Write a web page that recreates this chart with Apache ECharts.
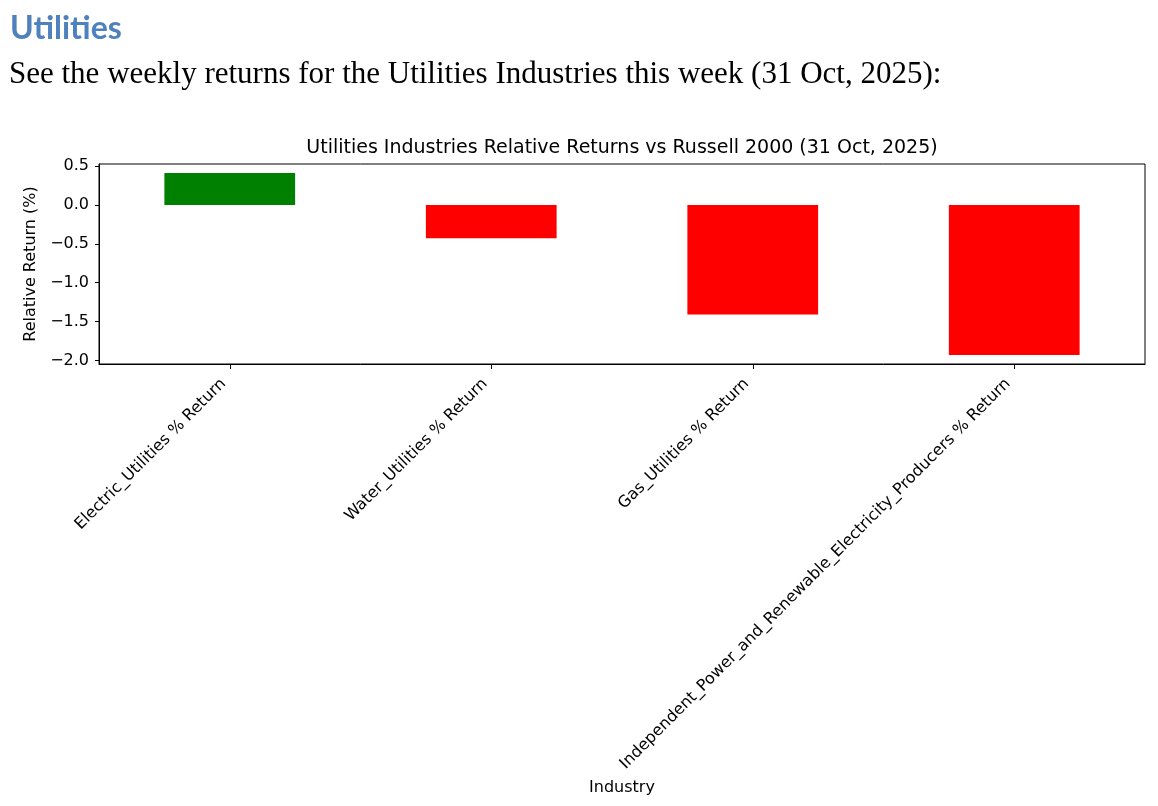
<!DOCTYPE html>
<html>
<head>
<meta charset="utf-8">
<script src="https://cdn.jsdelivr.net/npm/echarts@6/dist/echarts.min.js"></script>
<style>
html,body{margin:0;padding:0;background:#fff;}
#chart{width:1158px;height:806px;}
</style>
</head>
<body>
<div id="chart"></div>
<script>
const categories = [
  "Electric_Utilities % Return",
  "Water_Utilities % Return",
  "Gas_Utilities % Return",
  "Independent_Power_and_Renewable_Electricity_Producers % Return"
];
const values = [0.41, -0.43, -1.41, -1.93];
const yTicks = [-2.0, -1.5, -1.0, -0.5, 0.0, 0.5];
const yMin = -2.047;
const yMax = 0.527;

const pageTitle = "Utilities";
const pageSubtitle = "See the weekly returns for the Utilities Industries this week (31 Oct, 2025):";
const chartTitle = "Utilities Industries Relative Returns vs Russell 2000 (31 Oct, 2025)";

const chart = echarts.init(document.getElementById('chart'), null, {renderer: 'canvas'});
const fmt = v => {
  const s = Number(v).toFixed(1);
  return s.replace('-', '\u2212');
};
const axisFont = 'DejaVu Sans';

chart.setOption({
  animation: false,
  backgroundColor: '#ffffff',
  graphic: [
    {type: 'text', x: 10, y: 29, style: {text: pageTitle, font: 'bold 32px Lato', fill: '#4F81BD', textAlign: 'left', textVerticalAlign: 'middle'}},
    {type: 'text', x: 9, y: 75, style: {text: pageSubtitle, font: '31px "Liberation Serif"', fill: '#000000', textAlign: 'left', textVerticalAlign: 'middle'}},
    {type: 'text', x: 622, y: 148, style: {text: chartTitle, font: '19px "DejaVu Sans"', fill: '#000000', textAlign: 'center', textVerticalAlign: 'middle'}}
  ],
  grid: {
    left: 99, right: 13, top: 164, height: 200,
    show: true, borderColor: '#000000', borderWidth: 1, backgroundColor: 'transparent',
    containLabel: false
  },
  xAxis: {
    type: 'category',
    data: categories,
    boundaryGap: true,
    name: 'Industry',
    nameLocation: 'middle',
    nameGap: 416,
    nameTextStyle: {fontFamily: axisFont, fontSize: 16, color: '#000'},
    axisLine: {show: true, onZero: false, lineStyle: {color: '#000', width: 1}},
    axisTick: {show: true, alignWithLabel: true, length: 5, lineStyle: {color: '#000'}},
    axisLabel: {rotate: 45, interval: 0, fontFamily: axisFont, fontSize: 16, color: '#000', margin: 11, padding: [0, 9, 0, 0]},
    splitLine: {show: false}
  },
  yAxis: {
    type: 'value',
    min: yMin, max: yMax,
    name: 'Relative Return (%)',
    nameLocation: 'middle',
    nameRotate: 90,
    nameGap: 58,
    nameTextStyle: {fontFamily: axisFont, fontSize: 16, color: '#000'},
    axisLine: {show: true, onZero: false, lineStyle: {color: '#000', width: 1}},
    axisTick: {show: true, length: 4, lineStyle: {color: '#000'}, customValues: yTicks},
    axisLabel: {fontFamily: axisFont, fontSize: 16, color: '#000', margin: 10, formatter: fmt, customValues: yTicks},
    splitLine: {show: false}
  },
  series: [{
    type: 'bar',
    barWidth: '50%',
    data: values.map(v => ({value: v, itemStyle: {color: v >= 0 ? '#008000' : '#ff0000'}}))
  }]
});
</script>
</body>
</html>
